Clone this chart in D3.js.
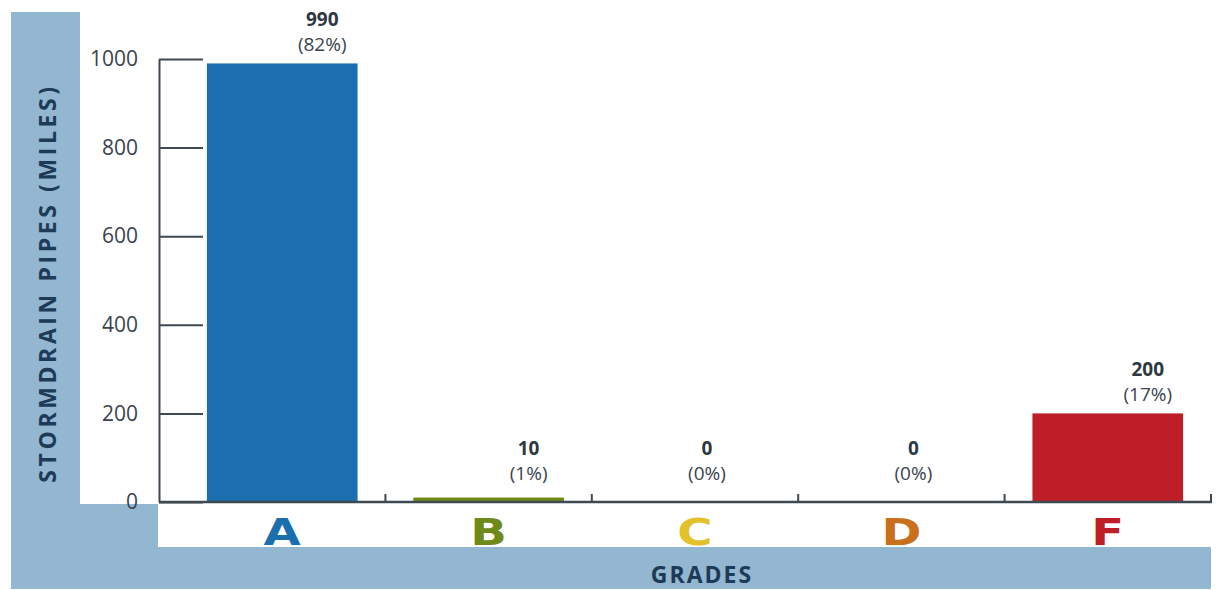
<!DOCTYPE html>
<html>
<head>
<meta charset="utf-8">
<script src="https://cdn.jsdelivr.net/npm/d3@7"></script>
<style>
  body { margin: 0; background: #fff; }
  svg { display: block; }
</style>
</head>
<body>
<div id="chart"></div>
<script>
// Stormdrain pipes by grade
var grades = ["A", "B", "C", "D", "F"];
var miles = [990, 10, 0, 0, 200];
var shares = [82, 1, 0, 0, 17];
var gradeColors = ["#1b6fae", "#6f8a18", "#e2c12a", "#c8701c", "#be1f26"];
var yTicks = [0, 200, 400, 600, 800, 1000];

var width = 1218, height = 590;
var panelBlue = "#93b6d1", navy = "#1d3a56", axisGrey = "#3e4952";

var svg = d3.select("#chart")
    .append("svg")
    .attr("width", width)
    .attr("height", height);

// L-shaped blue frame behind the chart
svg.append("path")
    .attr("d", "M11,12H80V504H158V547H1211V589H11Z")
    .attr("fill", panelBlue);

// Scales
var y = d3.scaleLinear()
    .domain([0, 1000])
    .range([502, 59]);

var x = d3.scaleBand()
    .domain(grades)
    .range([178, 1212])
    .paddingInner(0.27)
    .paddingOuter(0.14);

var data = grades.map(function (g, i) {
    return { grade: g, value: miles[i], share: shares[i], color: gradeColors[i] };
});

// Y axis, ticks pointing into the plot
var yAxis = svg.append("g")
    .attr("class", "y axis")
    .attr("transform", "translate(159,0)")
    .call(d3.axisLeft(y).tickValues(yTicks).tickFormat(d3.format("d"))
        .tickSizeInner(-44).tickSizeOuter(0).tickPadding(21));

yAxis.select(".domain").attr("stroke", axisGrey).attr("stroke-width", 2);
yAxis.selectAll(".tick line").attr("stroke", axisGrey).attr("stroke-width", 2);
yAxis.selectAll(".tick text")
    .attr("fill", "#3a444e")
    .style("font-family", "Open Sans")
    .style("font-size", "21px");

// Bars
svg.selectAll("rect.bar")
    .data(data)
    .enter()
    .append("rect")
    .attr("class", "bar")
    .attr("x", function (d) { return x(d.grade); })
    .attr("y", function (d) { return y(d.value); })
    .attr("width", x.bandwidth())
    .attr("height", function (d) { return y(0) - y(d.value); })
    .attr("fill", function (d) { return d.color; });

// X baseline with small upward ticks between grades
svg.append("line")
    .attr("x1", 159)
    .attr("x2", x.range()[1])
    .attr("y1", y(0))
    .attr("y2", y(0))
    .attr("stroke", axisGrey)
    .attr("stroke-width", 2.5);

var gap = x.step() * x.paddingInner() / 2;
function sepX(d, i) {
    return i === grades.length - 1 ? x.range()[1] - 1 : x(d) + x.bandwidth() + gap;
}
svg.selectAll("line.sep")
    .data(grades)
    .enter()
    .append("line")
    .attr("class", "sep")
    .attr("x1", sepX)
    .attr("x2", sepX)
    .attr("y1", y(0))
    .attr("y2", y(0) - 8)
    .attr("stroke", axisGrey)
    .attr("stroke-width", 2);

// Value labels
function labelY(d) {
    return Math.min(y(d.value), y(0) - 10);
}
function labelX(d) {
    return x(d.grade) + x.bandwidth() / 2 + (d.value > 0 ? 40 : 12);
}

svg.selectAll("text.value")
    .data(data)
    .enter()
    .append("text")
    .attr("class", "value")
    .attr("x", labelX)
    .attr("y", function (d) { return labelY(d) - 37; })
    .attr("text-anchor", "middle")
    .attr("fill", "#2e3842")
    .style("font-family", "Open Sans")
    .style("font-weight", "bold")
    .style("font-size", "19px")
    .text(function (d) { return d.value; });

svg.selectAll("text.share")
    .data(data)
    .enter()
    .append("text")
    .attr("class", "share")
    .attr("x", labelX)
    .attr("y", function (d) { return labelY(d) - 12; })
    .attr("text-anchor", "middle")
    .attr("fill", "#3a444e")
    .style("font-family", "Open Sans")
    .style("font-size", "19px")
    .text(function (d) { return "(" + d.share + "%)"; });

// Grade letters under the axis
svg.selectAll("text.grade")
    .data(data)
    .enter()
    .append("text")
    .attr("class", "grade")
    .attr("transform", function (d) {
        return "translate(" + (x(d.grade) + x.bandwidth() / 2) + ",545) scale(1.3,1)";
    })
    .attr("text-anchor", "middle")
    .attr("fill", function (d) { return d.color; })
    .style("font-family", "DejaVu Sans")
    .style("font-weight", "bold")
    .style("font-size", "37px")
    .text(function (d) { return d.grade; });

// Axis titles
svg.append("text")
    .attr("transform", "translate(56,283) rotate(-90)")
    .attr("text-anchor", "middle")
    .attr("fill", navy)
    .style("font-family", "Open Sans")
    .style("font-weight", "bold")
    .style("font-size", "23px")
    .style("letter-spacing", "3.6px")
    .text("STORMDRAIN PIPES (MILES)");

svg.append("text")
    .attr("x", 702)
    .attr("y", 583)
    .attr("text-anchor", "middle")
    .attr("fill", navy)
    .style("font-family", "Open Sans")
    .style("font-weight", "bold")
    .style("font-size", "23px")
    .style("letter-spacing", "2px")
    .text("GRADES");
</script>
</body>
</html>
